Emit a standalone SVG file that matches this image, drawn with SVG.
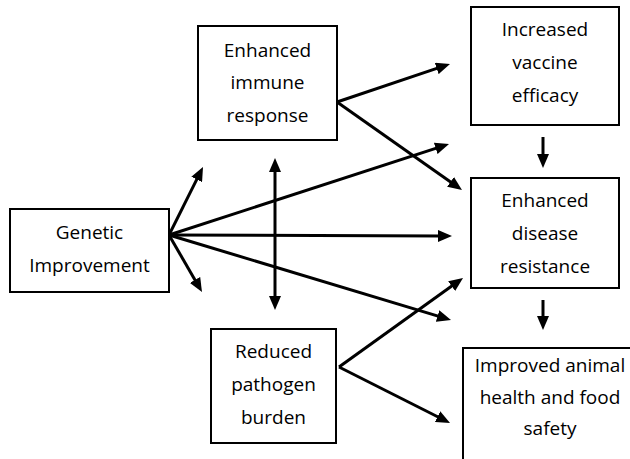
<svg xmlns="http://www.w3.org/2000/svg" width="630" height="459" viewBox="0 0 630 459">
<style>
.box{fill:#fff;stroke:#000;stroke-width:2}
.lbl{font-family:"Open Sans","Liberation Sans",sans-serif;font-size:19px;fill:#000;text-anchor:middle}
.c{stroke:#000;stroke-width:3;fill:none;marker-end:url(#ah)}
</style>
<defs>
<marker id="ah" markerUnits="userSpaceOnUse" markerWidth="14" markerHeight="12" refX="4" refY="6" orient="auto-start-reverse">
<path d="M0,0 L14,6 L0,12 z" fill="#000"/>
</marker>
</defs>
<rect width="630" height="459" fill="#fff"/>
<g id="connectors">
<line class="c" x1="169" y1="235" x2="198.5" y2="175.9"/>
<line class="c" x1="169" y1="235" x2="197" y2="283.4"/>
<line class="c" x1="169" y1="235" x2="439.5" y2="147.1"/>
<line class="c" x1="169" y1="235" x2="442" y2="236"/>
<line class="c" x1="169" y1="235" x2="441.4" y2="317.1"/>
<line class="c" x1="337" y1="102" x2="440.5" y2="67.2"/>
<line class="c" x1="337" y1="102" x2="453.8" y2="184.2"/>
<line class="c" x1="339" y1="367" x2="454.9" y2="283.8"/>
<line class="c" x1="339" y1="367" x2="441.1" y2="418.5"/>
<line class="c" x1="275" y1="168" x2="275" y2="300" style="marker-start:url(#ah)"/>
<line class="c" x1="543" y1="137" x2="543" y2="158"/>
<line class="c" x1="543" y1="300" x2="543" y2="320"/>
</g>
<g id="genetic">
<rect class="box" x="10" y="209" width="159" height="83"/>
<text class="lbl" x="89.5" y="239">Genetic</text>
<text class="lbl" x="89.5" y="272">Improvement</text>
</g>
<g id="immune">
<rect class="box" x="198" y="26" width="139" height="114"/>
<text class="lbl" x="267.5" y="57">Enhanced</text>
<text class="lbl" x="267.5" y="89">immune</text>
<text class="lbl" x="267.5" y="122">response</text>
</g>
<g id="pathogen">
<rect class="box" x="211" y="329" width="125" height="114"/>
<text class="lbl" x="273.5" y="358">Reduced</text>
<text class="lbl" x="273.5" y="391">pathogen</text>
<text class="lbl" x="273.5" y="424">burden</text>
</g>
<g id="vaccine">
<rect class="box" x="471" y="7" width="148" height="118"/>
<text class="lbl" x="545" y="36">Increased</text>
<text class="lbl" x="545" y="69">vaccine</text>
<text class="lbl" x="545" y="102">efficacy</text>
</g>
<g id="disease">
<rect class="box" x="471" y="178" width="148" height="110"/>
<text class="lbl" x="545" y="207">Enhanced</text>
<text class="lbl" x="545" y="240">disease</text>
<text class="lbl" x="545" y="273">resistance</text>
</g>
<g id="health">
<rect class="box" x="463" y="348" width="200" height="150"/>
<text class="lbl" x="550" y="372">Improved animal</text>
<text class="lbl" x="550" y="404">health and food</text>
<text class="lbl" x="550" y="435">safety</text>
</g>
</svg>
